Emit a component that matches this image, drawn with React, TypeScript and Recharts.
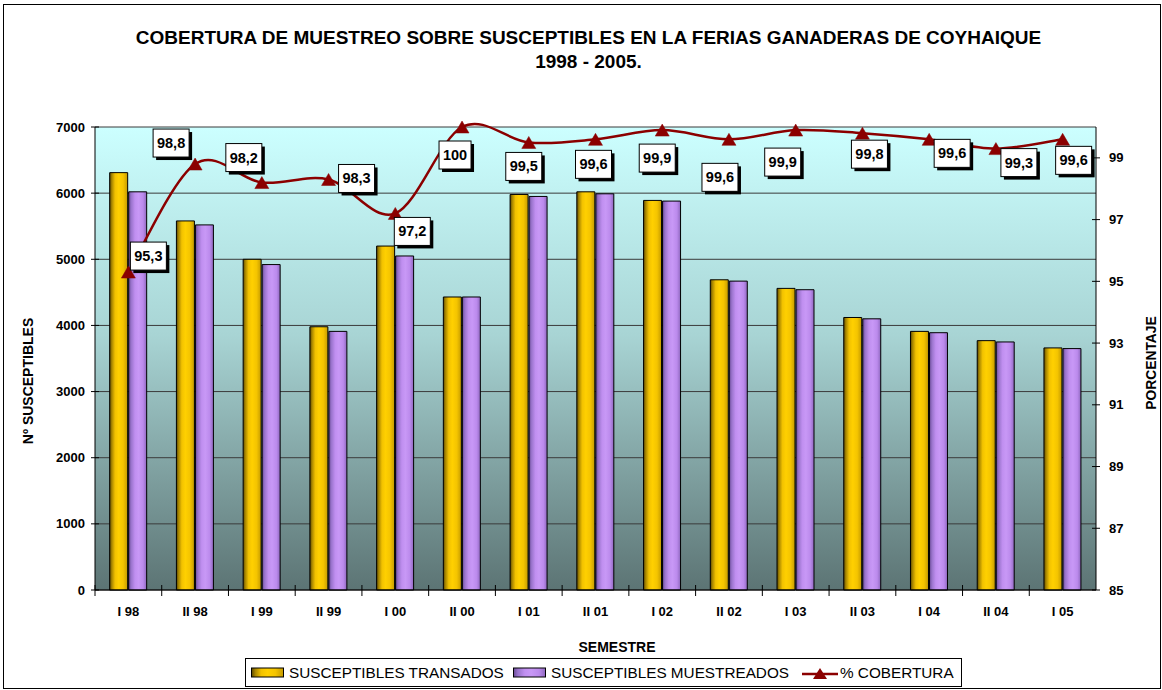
import React from 'react';
import { ComposedChart, Bar, Line, XAxis, YAxis, CartesianGrid, LabelList } from 'recharts';

const categories = ['I 98', 'II 98', 'I 99', 'II 99', 'I 00', 'II 00', 'I 01', 'II 01', 'I 02', 'II 02', 'I 03', 'II 03', 'I 04', 'II 04', 'I 05'];
const transados = [6310, 5580, 5000, 3980, 5200, 4430, 5980, 6020, 5890, 4690, 4560, 4120, 3910, 3770, 3660];
const muestreados = [6020, 5520, 4920, 3910, 5050, 4430, 5950, 5990, 5880, 4670, 4540, 4100, 3890, 3750, 3650];
const cobertura = [95.3, 98.8, 98.2, 98.3, 97.2, 100, 99.5, 99.6, 99.9, 99.6, 99.9, 99.8, 99.6, 99.3, 99.6];
const coberturaLabels = ['95,3', '98,8', '98,2', '98,3', '97,2', '100', '99,5', '99,6', '99,9', '99,6', '99,9', '99,8', '99,6', '99,3', '99,6'];
const leftTicks = [0, 1000, 2000, 3000, 4000, 5000, 6000, 7000];
const rightTicks = [85, 87, 89, 91, 93, 95, 97, 99];

// label box offsets (dx, dy) relative to each point, as placed in the original
const labelOffsets: [number, number][] = [
  [20, -16], [-24, -21], [-18, -25], [28, -1], [17, 18], [-7, 28], [-5, 24], [-2, 25],
  [-5, 28], [-9, 38], [-13, 32], [7, 21], [23, 14], [23, 14], [11, 21],
];

const data = categories.map((c, i) => ({
  name: c,
  transados: transados[i],
  muestreados: muestreados[i],
  cobertura: cobertura[i],
  label: coberturaLabels[i],
}));

const W = 1162;
const H = 690;
const PLOT = { left: 95, right: 1096, top: 127, bottom: 590 };
const LEFT_AXIS_W = 60;
const RIGHT_AXIS_W = 40;
const X_AXIS_H = 30;
const FONT = '"Liberation Sans", Arial, Helvetica, sans-serif';
const LINE_COLOR = '#8B0000';

// Excel-like smooth curve (Catmull-Rom converted to cubic Bezier)
const excelCurve: any = (context: any) => {
  let pts: number[][] = [];
  return {
    areaStart() {},
    areaEnd() {},
    lineStart() { pts = []; },
    point(x: number, y: number) { pts.push([+x, +y]); },
    lineEnd() {
      const n = pts.length;
      if (!n) return;
      context.moveTo(pts[0][0], pts[0][1]);
      for (let i = 0; i < n - 1; i++) {
        const p0 = pts[Math.max(i - 1, 0)];
        const p1 = pts[i];
        const p2 = pts[i + 1];
        const p3 = pts[Math.min(i + 2, n - 1)];
        const c1x = p1[0] + (p2[0] - p0[0]) / 6;
        const c1y = p1[1] + (p2[1] - p0[1]) / 6;
        const c2x = p2[0] - (p3[0] - p1[0]) / 6;
        const c2y = p2[1] - (p3[1] - p1[1]) / 6;
        context.bezierCurveTo(c1x, c1y, c2x, c2y, p2[0], p2[1]);
      }
    },
  };
};

const TriangleDot = (props: any) => {
  const { cx, cy, index } = props;
  if (cx == null || cy == null) return <g key={`d${index}`} />;
  return (
    <path
      key={`d${index}`}
      d={`M${cx},${cy - 6} L${cx + 7},${cy + 6} L${cx - 7},${cy + 6} Z`}
      fill={LINE_COLOR}
      stroke={LINE_COLOR}
      strokeWidth={0.5}
    />
  );
};

const BoxLabel = (props: any) => {
  const { x, y, index } = props;
  if (x == null || y == null) return null;
  const [dx, dy] = labelOffsets[index] || [0, -20];
  const text = coberturaLabels[index];
  const w = text.length > 3 ? 36 : 32;
  const h = 28;
  const cx = x + dx;
  const cy = y + dy;
  return (
    <g>
      <rect x={cx - w / 2 + 3} y={cy - h / 2 + 3} width={w} height={h} fill="#000" />
      <rect x={cx - w / 2} y={cy - h / 2} width={w} height={h} fill="#fff" stroke="#000" strokeWidth={1} />
      <text x={cx} y={cy + 5} textAnchor="middle" fontFamily={FONT} fontWeight="bold" fontSize={14.5} fill="#000">
        {text}
      </text>
    </g>
  );
};

const band = (PLOT.right - PLOT.left) / categories.length;

const XTick = (props: any) => {
  const { x, payload } = props;
  return (
    <g>
      <line x1={x - band / 2} x2={x - band / 2} y1={PLOT.bottom - 5} y2={PLOT.bottom + 6} stroke="#000" strokeWidth={1} />
      <text x={x} y={PLOT.bottom + 26} textAnchor="middle" fontFamily={FONT} fontWeight="bold" fontSize={13} fill="#000">
        {payload.value}
      </text>
    </g>
  );
};

const LeftTick = (props: any) => {
  const { y, payload } = props;
  return (
    <g>
      <line x1={PLOT.left - 4} x2={PLOT.left + 4} y1={y} y2={y} stroke="#000" strokeWidth={1} />
      <text x={PLOT.left - 10} y={y + 4.5} textAnchor="end" fontFamily={FONT} fontWeight="bold" fontSize={13} fill="#000">
        {payload.value}
      </text>
    </g>
  );
};

const RightTick = (props: any) => {
  const { y, payload } = props;
  return (
    <g>
      <line x1={PLOT.right - 4} x2={PLOT.right + 4} y1={y} y2={y} stroke="#000" strokeWidth={1} />
      <text x={PLOT.right + 13} y={y + 4.5} textAnchor="start" fontFamily={FONT} fontWeight="bold" fontSize={13} fill="#000">
        {payload.value}
      </text>
    </g>
  );
};

const goldStops = [
  ['0%', '#5c4800'], ['12%', '#a88600'], ['30%', '#f2c200'], ['50%', '#ffd000'], ['75%', '#f4c400'], ['100%', '#c49a00'],
];
const purpleStops = [
  ['0%', '#6a4a96'], ['14%', '#9a74cc'], ['35%', '#c08ff0'], ['55%', '#c898f6'], ['80%', '#bb8aec'], ['100%', '#8e68be'],
];

const Swatch = ({ id }: { id: string }) => (
  <svg width={34} height={11} style={{ display: 'block' }}>
    <defs>
      <linearGradient id={`${id}-leg`} x1="0" y1="0" x2="1" y2="0">
        {(id === 'gold' ? goldStops : purpleStops).map(([o, c]) => (
          <stop key={o} offset={o} stopColor={c} />
        ))}
      </linearGradient>
    </defs>
    <rect x={0.5} y={1} width={32} height={9} fill={`url(#${id}-leg)`} stroke="#000" strokeWidth={1} />
  </svg>
);

const legendItem = (left: number, child: React.ReactNode) => (
  <div style={{ position: 'absolute', left, top: 0, height: 27, display: 'flex', alignItems: 'center' }}>{child}</div>
);

export default function App() {
  return (
    <div style={{ position: 'absolute', left: 0, top: 0, width: W, height: H, overflow: 'hidden', background: '#fff' }}>
      <ComposedChart
        width={W}
        height={H}
        data={data}
        margin={{
          top: PLOT.top,
          right: W - PLOT.right - RIGHT_AXIS_W,
          bottom: H - PLOT.bottom - X_AXIS_H,
          left: PLOT.left - LEFT_AXIS_W,
        }}
        barGap={1}
        barCategoryGap="22%"
      >
        <defs>
          <linearGradient id="bgGrad" x1="0" y1="0" x2="0" y2="1">
            <stop offset="0%" stopColor="#ccffff" />
            <stop offset="45%" stopColor="#a8d4d4" />
            <stop offset="100%" stopColor="#5c7474" />
          </linearGradient>
          <linearGradient id="goldGrad" x1="0" y1="0" x2="1" y2="0">
            {goldStops.map(([o, c]) => (
              <stop key={o} offset={o} stopColor={c} />
            ))}
          </linearGradient>
          <linearGradient id="purpleGrad" x1="0" y1="0" x2="1" y2="0">
            {purpleStops.map(([o, c]) => (
              <stop key={o} offset={o} stopColor={c} />
            ))}
          </linearGradient>
        </defs>
        <CartesianGrid yAxisId="left" vertical={false} stroke="#3a3a3a" strokeWidth={1} fill="url(#bgGrad)" fillOpacity={1} />
        <XAxis
          dataKey="name"
          height={X_AXIS_H}
          axisLine={{ stroke: '#000', strokeWidth: 1 }}
          tickLine={false}
          tick={<XTick />}
          interval={0}
        />
        <YAxis
          yAxisId="left"
          width={LEFT_AXIS_W}
          domain={[0, 7000]}
          ticks={leftTicks}
          axisLine={{ stroke: '#000', strokeWidth: 1 }}
          tickLine={false}
          tick={<LeftTick />}
          interval={0}
        />
        <YAxis
          yAxisId="right"
          orientation="right"
          width={RIGHT_AXIS_W}
          domain={[85, 100]}
          ticks={rightTicks}
          axisLine={{ stroke: '#000', strokeWidth: 1 }}
          tickLine={false}
          tick={<RightTick />}
          interval={0}
        />
        <Bar yAxisId="left" dataKey="transados" name="SUSCEPTIBLES TRANSADOS" fill="url(#goldGrad)" stroke="#000" strokeWidth={1} isAnimationActive={false} />
        <Bar yAxisId="left" dataKey="muestreados" name="SUSCEPTIBLES MUESTREADOS" fill="url(#purpleGrad)" stroke="#000" strokeWidth={1} isAnimationActive={false} />
        <Line
          yAxisId="right"
          dataKey="cobertura"
          name="% COBERTURA"
          type={excelCurve}
          stroke={LINE_COLOR}
          strokeWidth={2.5}
          dot={<TriangleDot />}
          activeDot={false}
          isAnimationActive={false}
        >
          <LabelList dataKey="cobertura" content={<BoxLabel />} />
        </Line>
      </ComposedChart>

      <div
        style={{
          position: 'absolute', left: 0, top: 26, width: 1177, textAlign: 'center',
          fontFamily: FONT, fontWeight: 'bold', fontSize: 19, lineHeight: '24px', color: '#000',
        }}
      >
        <div>COBERTURA DE MUESTREO SOBRE SUSCEPTIBLES EN LA FERIAS GANADERAS DE COYHAIQUE</div>
        <div>1998 - 2005.</div>
      </div>

      <svg width={W} height={H} style={{ position: 'absolute', left: 0, top: 0, pointerEvents: 'none' }}>
        <rect x={3.5} y={4.5} width={1157} height={684} fill="none" stroke="#000" strokeWidth={1} />
        <text x={33} y={381} transform="rotate(-90 33 381)" textAnchor="middle" fontFamily={FONT} fontWeight="bold" fontSize={14} fill="#000">
          Nº SUSCEPTIBLES
        </text>
        <text x={1156} y={363} transform="rotate(-90 1156 363)" textAnchor="middle" fontFamily={FONT} fontWeight="bold" fontSize={13.8} fill="#000">
          PORCENTAJE
        </text>
        <text x={617} y={652} textAnchor="middle" fontFamily={FONT} fontWeight="bold" fontSize={14} fill="#000">
          SEMESTRE
        </text>
      </svg>

      <div
        style={{
          position: 'absolute', left: 245, top: 658, width: 717, height: 29, boxSizing: 'border-box',
          border: '1px solid #000', background: '#fff',
          fontFamily: FONT, fontSize: 15.3, color: '#000', whiteSpace: 'nowrap',
        }}
      >
        {legendItem(5, <Swatch id="gold" />)}
        {legendItem(43, <span>SUSCEPTIBLES TRANSADOS</span>)}
        {legendItem(267, <Swatch id="purple" />)}
        {legendItem(305, <span>SUSCEPTIBLES MUESTREADOS</span>)}
        {legendItem(556, (
          <svg width={36} height={14} style={{ display: 'block' }}>
            <line x1={0} x2={36} y1={8} y2={8} stroke={LINE_COLOR} strokeWidth={2.5} />
            <path d="M18,2 L25,13 L11,13 Z" fill={LINE_COLOR} />
          </svg>
        ))}
        {legendItem(594, <span>% COBERTURA</span>)}
      </div>
    </div>
  );
}
